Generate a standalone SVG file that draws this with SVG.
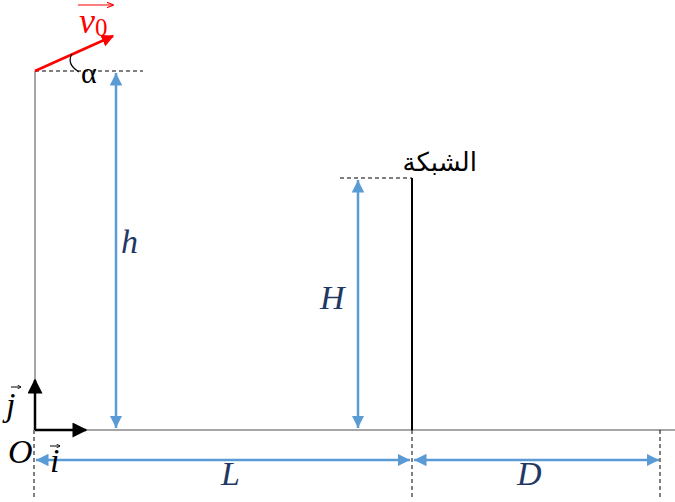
<svg xmlns="http://www.w3.org/2000/svg" width="675" height="502" viewBox="0 0 675 502">
<style>
.gray{stroke:#a6a6a6;stroke-width:2;fill:none}
.dash{stroke:#000;stroke-width:1;stroke-dasharray:4,3;fill:none}
.dim{stroke:#5b9bd5;stroke-width:2.5;fill:none}
.lbl{font-family:"Liberation Serif",serif;font-style:italic;fill:#1f3864;font-size:34px}
.blk{font-family:"Liberation Serif",serif;font-style:italic;fill:#000;font-size:34px}
.acc{stroke:#000;stroke-width:1;fill:none}
</style>
<defs>
<marker id="blue" viewBox="0 0 10 10" refX="10" refY="5" markerWidth="5" markerHeight="5" orient="auto-start-reverse" markerUnits="strokeWidth"><path d="M0,0 L10,5 L0,10 z" fill="#5b9bd5"/></marker>
<marker id="blackArr" viewBox="0 0 10 10" refX="9" refY="5" markerWidth="7" markerHeight="6" orient="auto" markerUnits="strokeWidth"><path d="M0,0 L10,5 L0,10 z" fill="#000"/></marker>
<marker id="redArr" viewBox="0 0 10 10" refX="9" refY="5" markerWidth="5" markerHeight="5" orient="auto" markerUnits="strokeWidth"><path d="M0,0 L10,5 L0,10 z" fill="#ff0000"/></marker>
<marker id="smallArr" viewBox="0 0 10 10" refX="9" refY="5" markerWidth="6" markerHeight="6" orient="auto" markerUnits="strokeWidth"><path d="M0,1 L10,5 L0,9" fill="none" stroke="#ff0000" stroke-width="1.5"/></marker>
<marker id="accArr" viewBox="0 0 10 10" refX="9" refY="5" markerWidth="4" markerHeight="4" orient="auto" markerUnits="strokeWidth"><path d="M0,0 L10,5 L0,10" fill="none" stroke="#000" stroke-width="2"/></marker>
</defs>
<g id="ground">
<line class="gray" x1="35" y1="71" x2="35" y2="430"/>
<line class="gray" x1="35" y1="430" x2="675" y2="430"/>
</g>
<g id="connectors">
<line class="dash" x1="35" y1="71" x2="143" y2="71"/>
<line class="dash" x1="340" y1="178" x2="412" y2="178"/>
<line class="dash" x1="34" y1="430" x2="34" y2="498"/>
<line class="dash" x1="412" y1="430" x2="412" y2="498"/>
<line class="dash" x1="660" y1="430" x2="660" y2="498"/>
<line class="dim" x1="116" y1="73" x2="116" y2="428" marker-start="url(#blue)" marker-end="url(#blue)"/>
<line class="dim" x1="358" y1="180" x2="358" y2="428" marker-start="url(#blue)" marker-end="url(#blue)"/>
<line class="dim" x1="36" y1="460" x2="410" y2="460" marker-start="url(#blue)" marker-end="url(#blue)"/>
<line class="dim" x1="414" y1="460" x2="659" y2="460" marker-start="url(#blue)" marker-end="url(#blue)"/>
</g>
<g id="net">
<line x1="412" y1="178" x2="412" y2="430" stroke="#000" stroke-width="2"/>
<text x="477" y="171" font-family="DejaVu Sans, sans-serif" font-size="26" fill="#000" text-anchor="end">الشبكة</text>
</g>
<g id="velocity">
<line x1="35" y1="71" x2="113" y2="36" stroke="#ff0000" stroke-width="2.5" marker-end="url(#redArr)"/>
<line x1="78" y1="5" x2="113" y2="5" stroke="#ff0000" stroke-width="1.2" marker-end="url(#smallArr)"/>
<text x="79" y="33" font-family="Liberation Serif, serif" font-style="italic" font-size="36" fill="#ff0000">v<tspan font-style="normal" font-size="25" dy="3">0</tspan></text>
<path d="M72,54 Q66,64 79,72" fill="none" stroke="#000" stroke-width="1.2"/>
<text x="81" y="83" font-family="Liberation Serif, serif" font-size="30" fill="#000">α</text>
</g>
<g id="axes">
<line x1="35" y1="430" x2="35" y2="380" stroke="#000" stroke-width="2.5" marker-end="url(#blackArr)"/>
<line x1="35" y1="430" x2="86" y2="430" stroke="#000" stroke-width="2.5" marker-end="url(#blackArr)"/>
<line class="acc" x1="11" y1="387" x2="21" y2="387" marker-end="url(#accArr)"/>
<text class="blk" x="6" y="416">j</text>
<text class="blk" x="8" y="463">O</text>
<line class="acc" x1="50" y1="446" x2="60" y2="446" marker-end="url(#accArr)"/>
<text class="blk" x="50" y="472">i</text>
</g>
<g id="labels">
<text class="lbl" x="121" y="253">h</text>
<text class="lbl" x="320" y="309">H</text>
<text class="lbl" x="221" y="485">L</text>
<text class="lbl" x="517" y="485">D</text>
</g>
</svg>
